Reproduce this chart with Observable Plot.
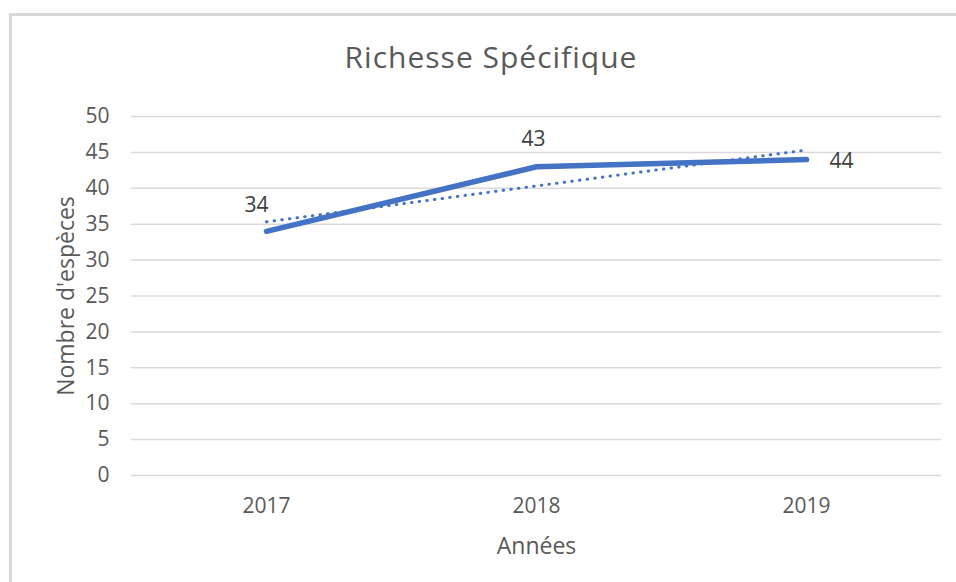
<!DOCTYPE html>
<html>
<head>
<meta charset="utf-8">
<script src="https://cdn.jsdelivr.net/npm/d3@7"></script>
<script src="https://cdn.jsdelivr.net/npm/@observablehq/plot@0.6"></script>
<style>
  html, body { margin: 0; padding: 0; background: #fff; overflow: hidden; width: 956px; height: 582px; }
  #title { position: absolute; top: 42px; left: 25px; width: 932px; text-align: center;
           font-family: "Open Sans", sans-serif; font-size: 30px; letter-spacing: 1px; line-height: 1; color: #595959; }
  #chart { position: absolute; top: 90px; left: 0; }
  #frame { position: absolute; left: 9px; top: 13px; right: -10px; bottom: -10px;
           border-top: 3px solid #d9d9d9; border-left: 3px solid #d9d9d9; pointer-events: none; }
</style>
</head>
<body>
<div id="title"></div>
<div id="chart"></div>
<div id="frame"></div>
<script>
const chartTitle = "Richesse Spécifique";
const xTitle = "Années";
const yTitle = "Nombre d'espèces";
const years = [2017, 2018, 2019];
const species = [34, 43, 44];
const yTicks = [0, 5, 10, 15, 20, 25, 30, 35, 40, 45, 50];

const data = years.map((year, i) => ({year, value: species[i]}));

document.getElementById("title").textContent = chartTitle;

const blue = "#4472C4";
const chart = Plot.plot({
  width: 956,
  height: 492,
  marginLeft: 131,
  marginRight: 15,
  marginTop: 26,
  marginBottom: 107,
  style: {fontFamily: "'Open Sans', sans-serif", color: "#595959", background: "transparent", overflow: "visible"},
  x: {domain: [2016.5, 2019.5]},
  y: {domain: [0, 50]},
  marks: [
    Plot.gridY(yTicks, {stroke: "#d9d9d9", strokeOpacity: 1, strokeWidth: 1.5}),
    Plot.axisY(yTicks, {tickSize: 0, tickPadding: 22, fontSize: 21, label: null}),
    Plot.axisX(years, {tickSize: 0, tickPadding: 23, fontSize: 21, tickFormat: d => String(d), label: null}),
    Plot.line(data, {x: "year", y: "value", stroke: blue, strokeWidth: 5.5, strokeLinecap: "round", strokeLinejoin: "round"}),
    Plot.linearRegressionY(data, {x: "year", y: "value", ci: 0, stroke: blue, strokeWidth: 3, strokeDasharray: "0.5 7.2", strokeLinecap: "round"}),
    Plot.text(data, {filter: (d, i) => i === 0, x: "year", y: "value", text: d => String(d.value), dx: -10, dy: -19, lineAnchor: "bottom", fontSize: 21, fill: "#404040"}),
    Plot.text(data, {filter: (d, i) => i === 1, x: "year", y: "value", text: d => String(d.value), dx: -3, dy: -21, lineAnchor: "bottom", fontSize: 21, fill: "#404040"}),
    Plot.text(data, {filter: (d, i) => i === 2, x: "year", y: "value", text: d => String(d.value), dx: 23, dy: 2, textAnchor: "start", lineAnchor: "middle", fontSize: 21, fill: "#404040"}),
    Plot.text([yTitle], {text: d => d, frameAnchor: "left", textAnchor: "middle", rotate: -90, dx: -58, lineAnchor: "bottom", fontSize: 23}),
    Plot.text([xTitle], {text: d => d, frameAnchor: "bottom", textAnchor: "middle", dy: 78, lineAnchor: "bottom", fontSize: 23})
  ]
});
document.getElementById("chart").appendChild(chart);
</script>
</body>
</html>
